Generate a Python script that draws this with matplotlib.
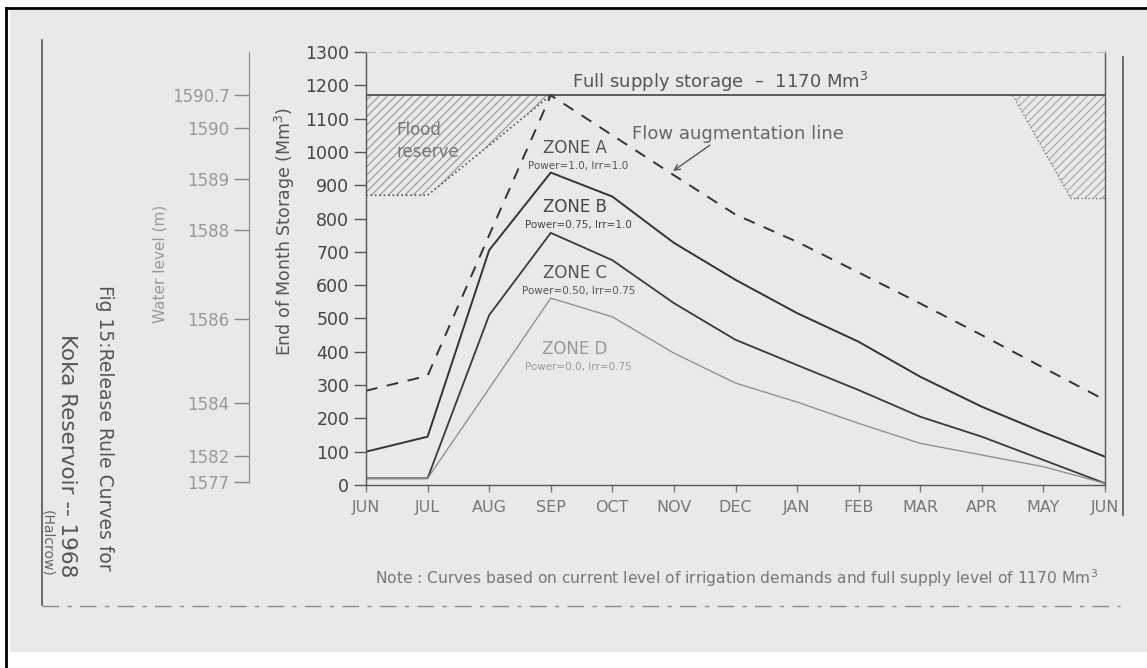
import matplotlib
matplotlib.use('Agg')
import matplotlib.pyplot as plt
from matplotlib.lines import Line2D
from matplotlib.patches import Rectangle, Polygon

plt.rcParams['hatch.linewidth'] = 0.7

# ---------------- data ----------------
months = ['JUN', 'JUL', 'AUG', 'SEP', 'OCT', 'NOV', 'DEC', 'JAN', 'FEB', 'MAR', 'APR', 'MAY', 'JUN']
flow_augmentation = [283, 328, 750, 1170, 1050, 930, 812, 730, 638, 545, 450, 352, 255]
zone_a_lower = [100, 145, 705, 938, 866, 727, 616, 516, 430, 325, 235, 158, 85]
zone_b_lower = [20, 20, 510, 757, 675, 546, 436, 360, 285, 205, 145, 75, 5]
zone_c_lower = [20, 20, 290, 561, 505, 396, 306, 249, 185, 125, 90, 55, 5]
full_supply = 1170
flood_left_x = [0, 3, 1, 0]
flood_left_y = [1170, 1170, 870, 870]
flood_right_x = [10.5, 12, 12, 11.45]
flood_right_y = [1170, 1170, 860, 860]
storage_ticks = list(range(0, 1301, 100))
water_levels = ['1590.7', '1590', '1589', '1588', '1586', '1584', '1582', '1577']
water_level_storage = [1170, 1072, 919, 765, 499, 247, 87, 10]
zone_names = ['ZONE A', 'ZONE B', 'ZONE C', 'ZONE D']
zone_rules = ['Power=1.0, Irr=1.0', 'Power=0.75, Irr=1.0', 'Power=0.50, Irr=0.75', 'Power=0.0, Irr=0.75']
zone_label_y = [1012, 835, 637, 408]

W, H = 1147, 668
fig = plt.figure(figsize=(W / 100, H / 100), dpi=100)
fig.patch.set_facecolor('white')


def fx(px):
    return px / W


def fy(py):
    return 1 - py / H


# scanned page background and outer frame
fig.add_artist(Rectangle((fx(10), fy(652)), fx(W) - fx(10), fy(10) - fy(652),
                         transform=fig.transFigure, facecolor='#e9e9eb', edgecolor='none', zorder=0))
fig.add_artist(Line2D([fx(6), fx(W)], [fy(8), fy(8)], color='black', lw=2, transform=fig.transFigure))
fig.add_artist(Line2D([fx(6), fx(6)], [fy(8), fy(H)], color='black', lw=2, transform=fig.transFigure))
# page edges of the scan
fig.add_artist(Line2D([fx(42), fx(42)], [fy(40), fy(605)], color='#555555', lw=1.2, transform=fig.transFigure))
fig.add_artist(Line2D([fx(42), fx(1120)], [fy(606), fy(606)], color='#8a8a8a', lw=1.0,
                      ls=(0, (12, 6, 3, 6)), transform=fig.transFigure))
fig.add_artist(Line2D([fx(1123), fx(1123)], [fy(57), fy(515)], color='#555555', lw=1.2, transform=fig.transFigure))

# ---------------- main axes ----------------
ax = fig.add_axes([fx(366), fy(485), fx(1105) - fx(366), fy(52) - fy(485)])
ax.set_facecolor('none')
x = list(range(len(months)))
ax.set_xlim(0, 12)
ax.set_ylim(0, 1300)

for side in ['left', 'bottom', 'right']:
    ax.spines[side].set_color('#555555')
    ax.spines[side].set_linewidth(1.0)
ax.spines['top'].set_color('#bbbbbb')
ax.spines['top'].set_linestyle((0, (8, 6)))

ax.set_yticks(storage_ticks)
ax.set_yticklabels([str(v) for v in storage_ticks], fontsize=12.5, color='#444444')
ax.set_xticks(x)
ax.set_xticklabels(months, fontsize=11.5, color='#666666')
ax.tick_params(axis='y', direction='out', length=9, width=1, colors='#555555', pad=3, labelcolor='#444444')
ax.tick_params(axis='x', direction='out', length=5, width=1, colors='#777777', pad=6, labelcolor='#777777')

# flood reserve areas
ax.add_patch(Polygon(list(zip(flood_left_x, flood_left_y)), closed=True, facecolor='none',
                     edgecolor='#8a8a8a', lw=0, hatch='////'))
ax.add_patch(Polygon(list(zip(flood_right_x, flood_right_y)), closed=True, facecolor='none',
                     edgecolor='#9a9a9a', lw=0, hatch='////'))
ax.plot([flood_left_x[3], flood_left_x[2], flood_left_x[1]],
        [flood_left_y[3], flood_left_y[2], flood_left_y[1]], ls=':', color='#555555', lw=1.2)
ax.plot([flood_right_x[0], flood_right_x[3], flood_right_x[2]],
        [flood_right_y[0], flood_right_y[3], flood_right_y[2]], ls=':', color='#777777', lw=1.0)

ax.axhline(full_supply, color='#444444', lw=1.2)

ax.plot(x, flow_augmentation, color='#333333', lw=1.4, ls=(0, (6, 5)))
ax.plot(x, zone_a_lower, color='#333333', lw=1.4)
ax.plot(x, zone_b_lower, color='#3a3a3a', lw=1.3)
ax.plot(x, zone_c_lower, color='#8a8a8a', lw=0.9)

# annotations
ax.text(3.35, 1175, 'Full supply storage  \u2013  1170 Mm$^3$', fontsize=13, color='#555555',
        ha='left', va='bottom')
ax.text(0.5, 1066, 'Flood', fontsize=12, color='#777777', ha='left', va='center')
ax.text(0.5, 1000, 'reserve', fontsize=12, color='#777777', ha='left', va='center')
ax.text(4.32, 1054, 'Flow augmentation line', fontsize=13, color='#666666', ha='left', va='center')
ax.annotate('', xy=(4.95, flow_augmentation[5] + 8), xytext=(5.62, 1025),
            arrowprops=dict(arrowstyle='->', color='#555555', lw=1.0))

zone_colors = ['#555555', '#444444', '#555555', '#999999']
for name, rule, yy, col in zip(zone_names, zone_rules, zone_label_y, zone_colors):
    ax.text(3.39, yy, name, fontsize=12, color=col, ha='center', va='center')
    ax.text(3.45, yy - 54, rule, fontsize=7.5, color=col, ha='center', va='center')

# ---------------- water level axis ----------------
ax2 = fig.add_axes([fx(249), fy(485), 0.0001, fy(52) - fy(485)])
ax2.set_facecolor('none')
ax2.set_ylim(0, 1300)
for side in ['right', 'top', 'bottom']:
    ax2.spines[side].set_visible(False)
ax2.spines['left'].set_color('#888888')
ax2.spines['left'].set_bounds(10, 1300)
ax2.set_xticks([])
ax2.set_yticks(water_level_storage)
ax2.set_yticklabels(water_levels, fontsize=12, color='#999999')
ax2.tick_params(axis='y', direction='out', length=11, width=1, colors='#888888', pad=3, labelcolor='#999999')

# ---------------- axis titles and figure caption ----------------
fig.text(fx(160), fy(264), 'Water level (m)', rotation=90, fontsize=11, color='#999999',
         ha='center', va='center')
fig.text(fx(285), fy(232), 'End of Month Storage (Mm$^3$)', rotation=90, fontsize=12.5, color='#555555',
         ha='center', va='center')
fig.text(fx(104), fy(428), 'Fig 15:Release Rule Curves for', rotation=270, fontsize=13.5, color='#555555',
         ha='center', va='center')
fig.text(fx(67), fy(456), 'Koka Reservoir -- 1968', rotation=270, fontsize=15.5, color='#555555',
         ha='center', va='center')
fig.text(fx(47), fy(543), '(Halcrow)', rotation=270, fontsize=10, color='#666666',
         ha='center', va='center')
fig.text(fx(375), fy(578), 'Note : Curves based on current level of irrigation demands and full supply level of 1170 Mm$^3$',
         fontsize=11.2, color='#777777', ha='left', va='center')

fig.savefig('out.png', dpi=100)
